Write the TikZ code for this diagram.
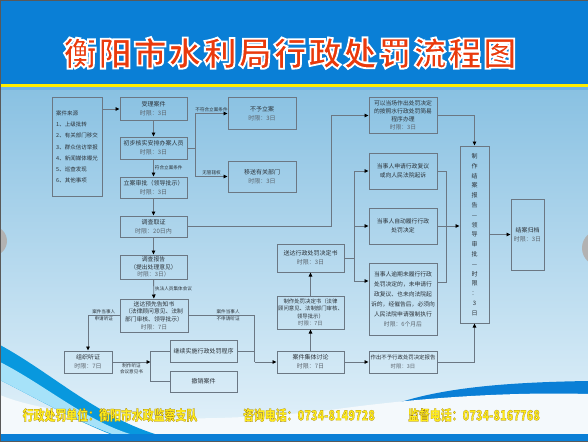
\documentclass[tikz,border=0pt]{standalone}
\usepackage{fontspec}
\setmainfont{Noto Sans CJK SC}
\usetikzlibrary{arrows.meta, positioning, calc}

\definecolor{bannerblue}{HTML}{0A7FD6}
\definecolor{titlered}{HTML}{EA3A0C}
\definecolor{linegray}{HTML}{6B7783}
\definecolor{textgray}{HTML}{2C3238}
\definecolor{timegray}{HTML}{5C646C}
\definecolor{bgtop}{HTML}{89C1E2}
\definecolor{bgbottom}{HTML}{E4F2FA}
\definecolor{footwhite}{HTML}{F4F9FC}
\definecolor{footyellow}{HTML}{FFEC1A}

\newcommand{\tl}[1]{{\color{timegray}#1}}
% fill the glyphs, then stroke their outline (#1 = width, #2 = stroke rgb)
\newcommand{\rimtext}[3]{\special{pdf:literal direct 2 Tr #1 w #2 RG}#3\special{pdf:literal direct 0 Tr}}

\begin{document}
\begin{tikzpicture}[x=1pt, y=-1pt,
  box/.style={rectangle, draw=linegray, line width=1pt, minimum width=67pt, minimum height=22pt,
              align=center, inner sep=1pt, text=textgray, font=\fontsize{6}{9}\selectfont},
  note/.style={font=\fontsize{4.6}{6.5}\selectfont, text=textgray, inner sep=1pt, align=center},
  arrow/.style={draw=linegray, line width=0.9pt, -{Triangle[length=4pt, width=3.6pt, color=black]}},
  link/.style={draw=linegray, line width=0.9pt},
  banner/.style={font=\fontsize{33}{36}\selectfont\bfseries\addfontfeatures{LetterSpace=6}, line width=1.8pt},
  foot/.style={font=\fontsize{14}{14}\selectfont\bfseries, inner sep=0pt, line width=0.2pt},
]
  \useasboundingbox (0,0) rectangle (588,441);
  \clip (0,0) rectangle (588,441);

  % background and banner
  \shade[top color=bgtop, bottom color=bgbottom] (0,88) rectangle (588,441);
  \fill[bannerblue] (0,0) rectangle (588,84);
  \fill[yellow!95!orange] (0,84) rectangle (588,87);
  \fill[bannerblue!60!white] (0,87) rectangle (588,90);
  \fill[gray!60] (-8,241) circle (15);
  \fill[gray!60] (600,248) circle (18);

  % footer waves
  \fill[bannerblue] (330,441) .. controls (380,395) and (460,383) .. (588,381) -- (588,441) -- cycle;
  \fill[footwhite] (0,441) -- (0,395) .. controls (60,420) and (200,425) .. (330,410)
    .. controls (430,396) and (520,392) .. (588,394) -- (588,441) -- cycle;
  \fill[bannerblue!80!cyan] (0,345) .. controls (50,372) and (95,415) .. (155,434)
    -- (110,434) .. controls (70,418) and (30,395) .. (0,380) -- cycle;
  \fill[cyan!35!white] (0,362) .. controls (45,385) and (85,420) .. (130,434)
    -- (112,434) .. controls (70,418) and (30,395) .. (0,380) -- cycle;
  \fill[bannerblue] (0,434) rectangle (588,441);

  % title
  \node[banner, text=titlered] (title) at (290,53) {\rimtext{1.8}{1 1 1}{衡阳市水利局行政处罚流程图}};

  % left column
  \node[box, minimum width=50pt, minimum height=98pt, align=left,
        font=\fontsize{5.5}{11.2}\selectfont] (source) at (77,147)
    {案件来源\\1、上级批转\\2、有关部门移交\\3、群众信访举报\\4、新闻媒体曝光\\5、巡查发现\\6、其他事项};
  \node[box] (accept) at (153.5,109) {受理案件\\\tl{时限：3日}};
  \node[box] (check) at (153.5,148) {初步核实安排办案人员\\\tl{时限：3日}};
  \node[box, minimum height=21pt] (approve) at (153.5,187.5) {立案审批（领导批示）\\\tl{时限：3日}};
  \node[box, minimum width=68pt, minimum height=31pt] (reject) at (262,113.5) {不予立案\\\tl{时限：3日}};
  \node[box, minimum width=68pt, minimum height=31pt] (transfer) at (262,176.5) {移送有关部门\\\tl{时限：3日}};
  \node[box, minimum height=21pt] (probe) at (153.5,226.5) {调查取证\\\tl{时限：20日内}};
  \node[box, minimum height=24pt, font=\fontsize{5.8}{7.4}\selectfont] (report) at (153.5,267)
    {调查报告\\（提出处理意见）\\\tl{时限：3日）}};
  \node[box, minimum width=68pt, minimum height=33pt, font=\fontsize{5.8}{7.6}\selectfont] (notify) at (154,315.5)
    {送达预先告知书\\（法律顾问意见、法制\\部门审核、领导批示）\\\tl{时限：7日}};
  \node[box, minimum width=48pt] (hearing) at (88,362) {组织听证\\\tl{时限：7日}};
  \node[box] (goon) at (203.5,351) {继续实施行政处罚程序};
  \node[box, minimum height=21pt] (cancel) at (203.5,381.5) {撤销案件};

  % middle column
  \node[box] (discuss) at (310.5,362) {案件集体讨论\\\tl{时限：7日}};
  \node[box, minimum height=33pt, font=\fontsize{5.4}{7.6}\selectfont] (decide) at (310.5,312.5)
    {制作处罚决定书（法律\\顾问意见、法制部门审核、\\领导批示）\\\tl{时限：7日}};
  \node[box, minimum height=28pt] (deliver) at (310.5,258) {送达行政处罚决定书\\\tl{时限：3日}};

  % right column
  \node[box, minimum width=68pt, minimum height=35pt, font=\fontsize{5.8}{8}\selectfont] (summary) at (403,115.5)
    {可以当场作出处罚决定\\的按照水行政处罚简易\\程序办理\\\tl{时限：3日}};
  \node[box, minimum width=68pt, minimum height=36pt, font=\fontsize{5.8}{9}\selectfont] (appeal) at (403,171)
    {当事人申请行政复议\\或向人民法院起诉};
  \node[box, minimum width=68pt, minimum height=36pt, font=\fontsize{5.8}{9}\selectfont] (comply) at (403,226)
    {当事人自动履行行政\\处罚决定};
  \node[box, minimum width=68pt, minimum height=72pt, font=\fontsize{5.8}{10}\selectfont] (enforce) at (403,299)
    {当事人逾期未履行行政\\处罚决定的，未申请行\\政复议、也未向法院起\\诉的，经催告后，必须向\\人民法院申请强制执行\\\tl{时限：6个月后}};
  \node[box, minimum width=68pt, font=\fontsize{5.4}{9}\selectfont] (nopen) at (403,362)
    {作出不予行政处罚决定报告\\\tl{时限：3日}};
  \node[box, minimum width=29pt, minimum height=177pt, font=\fontsize{6}{9.8}\selectfont] (closing) at (474.5,234.5)
    {制\\作\\结\\案\\报\\告\\—\\领\\导\\审\\批\\—\\时\\限\\：\\3\\日};
  \node[box, minimum width=33pt, minimum height=71pt] (archive) at (527.5,234.5) {结案归档\\\tl{时限：3日}};

  % connectors
  \draw[arrow] (source.east |- accept.west) -- (accept.west);
  \draw[arrow] (accept) -- (check);
  \draw[arrow] (check) -- node[note, right] {符合立案条件} (approve);
  \coordinate (split) at ($(check.east)+(8,0)$);
  \draw[link] (check.east) -- (split);
  \draw[arrow] (split) |- node[note, above, pos=0.75] {不符合立案条件} (reject.west);
  \draw[arrow] (split) |- node[note, above, pos=0.75] {无管辖权} (transfer.west);
  \draw[arrow] (approve) -- (probe);
  \draw[arrow] (probe) -- (report);
  \draw[arrow] (report) -- node[note, right] {执法人员集体会议} (notify);
  \draw[arrow] (probe.east) -| ($(summary.west)+(-37,0)$) -- (summary.west);
  \draw[arrow] (summary.east) -| (closing.north);

  \draw[arrow] (notify.west) -| node[note, above, pos=0.25] {案件当事人}
    node[note, below, pos=0.25] {申请听证} (hearing.north);
  \coordinate (merge) at ($(discuss.west)+(-22,0)$);
  \draw[link] (notify.east) -| node[note, above, pos=0.3] {案件当事人}
    node[note, below, pos=0.3] {不申请听证} (merge);
  \draw[link] (goon.east) -| (merge);
  \draw[arrow] (merge) -- (discuss.west);
  \coordinate (vote) at ($(hearing.east)+(38,0)$);
  \draw[arrow] (hearing.east) -- node[note, below] {制作听证\\会议意见书} (vote);
  \draw[link] (goon.west) -| (vote) |- (cancel.west);

  \draw[arrow] (discuss) -- (decide);
  \draw[arrow] (decide) -- (deliver);
  \draw[arrow] (discuss) -- (nopen);
  \draw[arrow] (nopen.east) -| (closing.south);

  \coordinate (fan) at ($(deliver.east)+(10,0)$);
  \draw[link] (deliver.east) -- (fan);
  \draw[arrow] (fan) |- (appeal.west);
  \draw[arrow] (fan) |- (comply.west);
  \draw[arrow] (fan) |- ($(enforce.west)+(0,-18)$);
  \coordinate (gather) at ($(appeal.east)+(9,0)$);
  \draw[link] (appeal.east) -- (gather) |- ($(enforce.east)+(0,-17)$);
  \draw[arrow] (comply.east) -- (comply.east -| closing.west);
  \draw[arrow] (closing.east |- archive.west) -- (archive.west);

  % footer
  \foreach \px/\msg [count=\i] in {110/{行政处罚单位：衡阳市水政监察支队},
      309/{咨询电话：0734-8149728}, 474/{监督电话：0734-8167768}}
    \node[foot, text=footyellow] (foot\i) at (\px,415)
      {\rimtext{0.2}{0.62 0.48 0.05}{\scalebox{0.78}[1]{\msg}}};

  \draw[gray!70!black, line width=0.8pt] (0,0) rectangle (588,441);
\end{tikzpicture}
\end{document}
